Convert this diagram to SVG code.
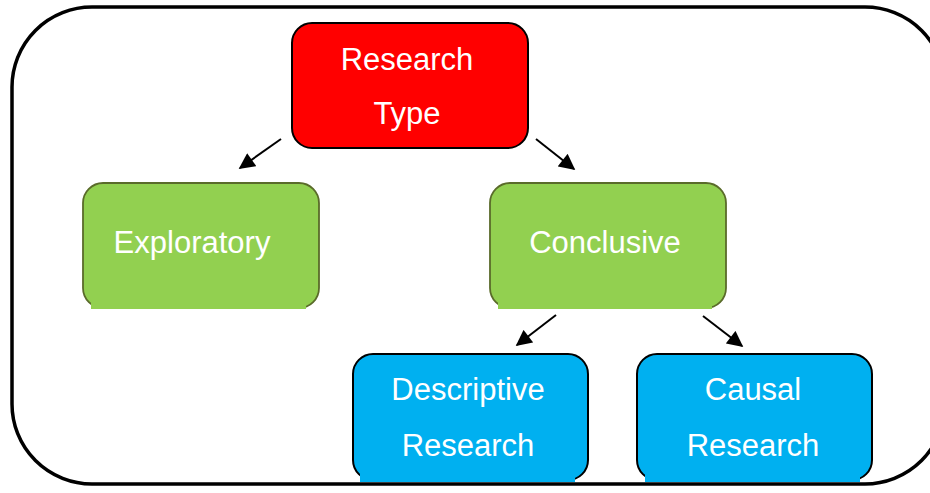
<svg xmlns="http://www.w3.org/2000/svg" width="930" height="493" viewBox="0 0 930 493">
  <defs>
    <marker id="arrowhead" viewBox="0 0 10 10" refX="9" refY="5" markerWidth="8.5" markerHeight="8" orient="auto" markerUnits="strokeWidth">
      <path d="M0,0 L10,5 L0,10 z" fill="#000"/>
    </marker>
  </defs>
  <style>
    .frame { fill: none; stroke: #000; stroke-width: 3.5; }
    .red { fill: #FF0000; stroke: #000; stroke-width: 2; }
    .green { fill: #92D050; stroke: #5A6B2A; stroke-width: 1.8; }
    .greenfill { fill: #92D050; }
    .blue { fill: #00B0F0; stroke: #000; stroke-width: 2; }
    .bluefill { fill: #00B0F0; }
    .label { font-family: "Liberation Sans", Arial, sans-serif; font-size: 31px; fill: #fff; text-anchor: middle; }
    .conn { stroke: #000; stroke-width: 2; fill: none; marker-end: url(#arrowhead); }
  </style>
  <rect width="930" height="493" fill="#fff"/>
  <!-- outer rounded frame, right side runs past the canvas -->
  <rect class="frame" x="12" y="7" width="933" height="477" rx="80" ry="80"/>

  <g id="research-type">
    <rect class="red" x="292" y="23" width="236" height="125" rx="20" ry="20"/>
    <text class="label" x="407" y="70">Research</text>
    <text class="label" x="407" y="124">Type</text>
  </g>

  <g id="exploratory">
    <rect class="green" x="83" y="183" width="236" height="125" rx="20" ry="20"/>
    <rect class="greenfill" x="91" y="300" width="215" height="9"/>
    <text class="label" x="192" y="253">Exploratory</text>
  </g>

  <g id="conclusive">
    <rect class="green" x="490" y="183" width="236" height="125" rx="20" ry="20"/>
    <rect class="greenfill" x="498" y="300" width="214" height="9"/>
    <text class="label" x="605" y="253">Conclusive</text>
  </g>

  <g id="descriptive-research">
    <rect class="blue" x="353" y="354" width="235" height="126" rx="20" ry="20"/>
    <rect class="bluefill" x="360" y="472" width="215" height="10"/>
    <text class="label" x="468" y="400">Descriptive</text>
    <text class="label" x="468" y="456">Research</text>
  </g>

  <g id="causal-research">
    <rect class="blue" x="637" y="354" width="235" height="126" rx="20" ry="20"/>
    <rect class="bluefill" x="645" y="472" width="215" height="10"/>
    <text class="label" x="753" y="400">Causal</text>
    <text class="label" x="753" y="456">Research</text>
  </g>

  <g id="connectors">
    <line class="conn" x1="281" y1="139" x2="240" y2="168"/>
    <line class="conn" x1="536" y1="139" x2="574" y2="169"/>
    <line class="conn" x1="556" y1="315" x2="517" y2="345"/>
    <line class="conn" x1="703" y1="316" x2="742" y2="346"/>
  </g>
</svg>
